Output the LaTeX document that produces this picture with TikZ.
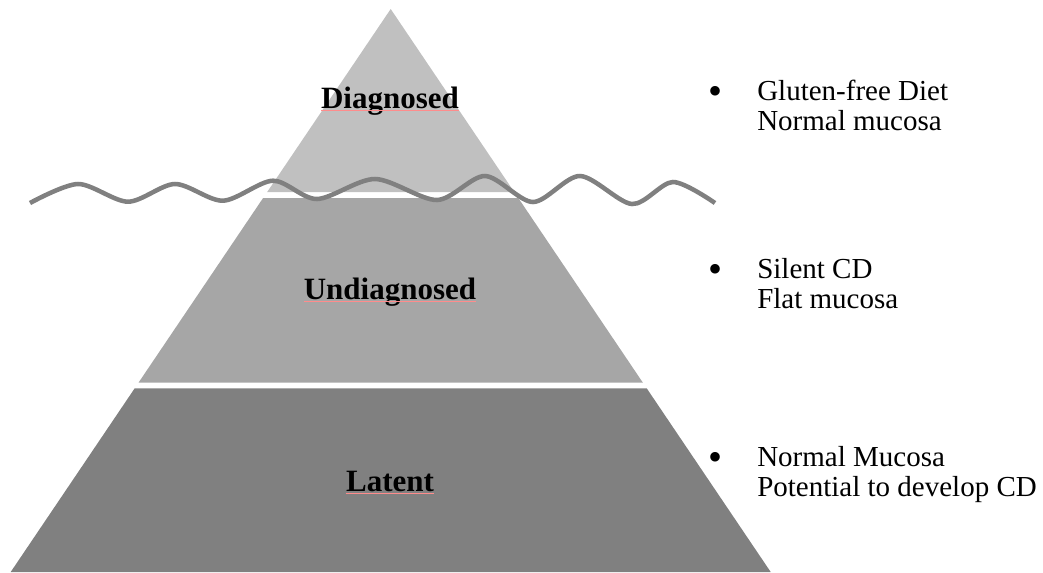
\documentclass[tikz,border=0pt]{standalone}
\usepackage{fontspec}
\setmainfont{Liberation Serif}
\usepackage{tikz}
\definecolor{topgray}{HTML}{C0C0C0}
\definecolor{midgray}{HTML}{A6A6A6}
\definecolor{lowgray}{HTML}{808080}
\tikzset{%
  band/.style   = {draw=none},%
  tier/.style   = {inner sep=0pt, anchor=base, font=\fontsize{23.25pt}{27pt}\selectfont\bfseries},%
  note/.style   = {inner sep=0pt, anchor=base west, align=left,%
                   font=\fontsize{21.75pt}{22.5pt}\selectfont},%
  bullet/.style = {inner sep=0pt, anchor=base, font=\fontsize{30pt}{30pt}\selectfont},%
  spell/.style  = {draw=red!45, line width=0.5pt},%
  water/.style  = {draw=lowgray, line width=3.4pt}%
}
\begin{document}
\begin{tikzpicture}[x=0.75pt,y=-0.75pt]
		\useasboundingbox (0,0) rectangle (1043,572);
		\fill[band,topgray] (390.7,9) -- (514.2,192) -- (267.2,192) -- cycle;
		\fill[band,midgray] (263.1,198) -- (518.3,198) -- (642.9,382.7) -- (138.5,382.7) -- cycle;
		\fill[band,lowgray] (134.7,388.3) -- (646.7,388.3) -- (770.7,572) -- (10.7,572) -- cycle;
		\node[tier] (diag) at (390,108) {Diagnosed};
		\node[tier] (undiag) at (390,299) {Undiagnosed};
		\node[tier] (latent) at (390,491) {Latent};
		\draw[spell] ([yshift=-2pt]diag.base west) -- ([yshift=-2pt]diag.base east);
		\draw[spell] ([yshift=-2pt]undiag.base west) -- ([yshift=-2pt]undiag.base east);
		\draw[spell] ([yshift=-2pt]latent.base west) -- ([yshift=-2pt]latent.base east);
		\draw[water] plot[smooth] coordinates {(30,203) (78,184) (128,201.7) (175,184) (223,200.7)
			(273,180.7) (317,199) (375,179) (437,200) (485,176) (533,202) (580,176) (632,204)
			(673,182) (715,203)};
		\node[bullet] (b1) at (715,104) {\textbullet};
		\node[note] (gluten) at (757,130) {Gluten-free Diet\\Normal mucosa};
		\node[bullet] (b2) at (715,282) {\textbullet};
		\node[note] (silent) at (757,308) {Silent CD\\Flat mucosa};
		\node[bullet] (b3) at (715,470) {\textbullet};
		\node[note] (normal) at (757,496) {Normal Mucosa\\Potential to develop CD};
\end{tikzpicture}
\end{document}
